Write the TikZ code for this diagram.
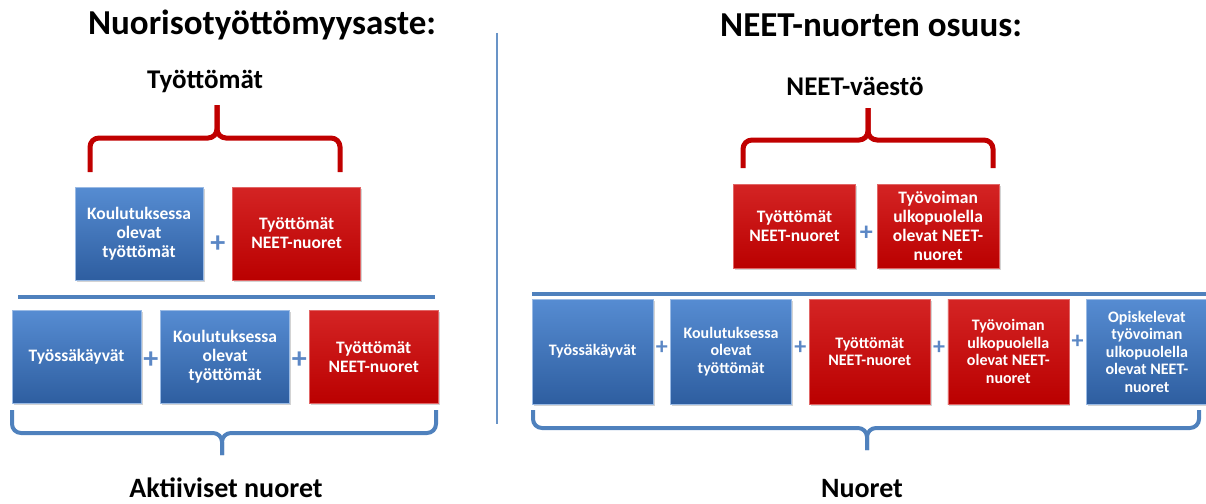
\documentclass[tikz,border=0pt]{standalone}
\usepackage{fontspec}
\setmainfont{Carlito}
\usetikzlibrary{positioning,calc,shadows}
\definecolor{sinitop}{RGB}{86,140,210}
\definecolor{sinibot}{RGB}{46,94,160}
\definecolor{punatop}{RGB}{212,36,36}
\definecolor{punabot}{RGB}{186,0,0}
\definecolor{sulkusini}{RGB}{79,129,189}
\definecolor{sulkupuna}{RGB}{192,0,0}
\definecolor{pluss}{RGB}{91,135,197}

\begin{document}
\begin{tikzpicture}[x=1pt,y=-1pt, every node/.style={font=\bfseries},
    laatikko/.style={inner sep=0pt, align=center, text=white,
      drop shadow={shadow xshift=1.5pt, shadow yshift=-1.5pt, opacity=.35}},
    sininen/.style={laatikko, top color=sinitop, bottom color=sinibot, draw=sinitop!60!white, line width=.6pt},
    punainen/.style={laatikko, top color=punatop, bottom color=punabot, draw=punatop!70!white, line width=.6pt},
    isot/.style={minimum width=128, minimum height=93, font=\bfseries\fontsize{17.5}{19}\selectfont},
    pienet/.style={minimum width=121, minimum height=105, font=\bfseries\fontsize{16}{17.5}\selectfont},
    plus/.style={text=pluss, inner sep=0pt},
    otsikko/.style={anchor=base, font=\bfseries\fontsize{35}{40}\selectfont},
    selite/.style={anchor=base, inner sep=1pt, font=\bfseries\fontsize{27}{30}\selectfont},
    punasulku/.style={draw=sulkupuna, line width=5pt, rounded corners=9pt},
    sinisulku/.style={draw=sulkusini, line width=4pt, rounded corners=9pt}]
  \useasboundingbox (0,0) rectangle (1206,503);

  % Nuorisotyöttömyysaste
  \node[otsikko] (otsA) at (262,35) {Nuorisotyöttömyysaste:};
  \node[selite] (tyottomat) at (205,88) {Työttömät};
  \draw[punasulku] (90,172) -- (90,138) -- (217,138) -- (217,105);
  \draw[punasulku] (340,172) -- (340,138) -- (217,138) -- (217,105);
  \node[sininen,isot] (koulA) at (139,233.5) {Koulutuksessa\\olevat\\työttömät};
  \node[punainen,isot,right=29pt of koulA] (tyotA) {Työttömät\\NEET-nuoret};
  \node[plus,font=\bfseries\fontsize{30}{30}\selectfont,yshift=-11pt] (plusA) at ($(koulA.east)!.5!(tyotA.west)$) {+};
  \draw[sulkusini,line width=4pt] (18,297) -- (435,297);
  \node[sininen,isot,minimum width=129] (tyossaB) at (76.5,357) {Työssäkäyvät};
  \node[sininen,isot,minimum width=129,right=19pt of tyossaB] (koulB) {Koulutuksessa\\olevat\\työttömät};
  \node[punainen,isot,minimum width=129,right=19pt of koulB] (tyotB) {Työttömät\\NEET-nuoret};
  \node[plus,font=\bfseries\fontsize{30}{30}\selectfont,yshift=-3pt] (plusB1) at ($(tyossaB.east)!.5!(koulB.west)$) {+};
  \node[plus,font=\bfseries\fontsize{30}{30}\selectfont,yshift=-3pt] (plusB2) at ($(koulB.east)!.5!(tyotB.west)$) {+};
  \draw[sinisulku] (12,410) -- (12,433) -- (222,433) -- (222,455);
  \draw[sinisulku] (436,410) -- (436,433) -- (222,433) -- (222,455);
  \node[selite,font=\bfseries\fontsize{28}{30}\selectfont] (aktiiviset) at (226,497) {Aktiiviset nuoret};

  % jakoviiva
  \draw[sulkusini!85!white,line width=2pt] (497,33) -- (497,424);

  % NEET-nuorten osuus
  \node[otsikko] (otsB) at (871,37) {NEET-nuorten osuus:};
  \node[selite] (neetvaesto) at (855,95) {NEET-väestö};
  \draw[punasulku] (743,168) -- (743,140) -- (868,140) -- (868,108);
  \draw[punasulku] (993,168) -- (993,140) -- (868,140) -- (868,108);
  \node[punainen,isot,minimum width=122,minimum height=84] (tyotC) at (794.5,226) {Työttömät\\NEET-nuoret};
  \node[punainen,isot,minimum width=122,minimum height=84,right=21pt of tyotC] (ulkoC) {Työvoiman\\ulkopuolella\\olevat NEET-\\nuoret};
  \node[plus,font=\bfseries\fontsize{26}{26}\selectfont,yshift=-7pt] (plusC) at ($(tyotC.east)!.5!(ulkoC.west)$) {+};
  \draw[sulkusini,line width=4pt] (532,294) -- (1206,294);
  \node[sininen,pienet] (tyossaD) at (592.5,351.5) {Työssäkäyvät};
  \node[sininen,pienet,right=17pt of tyossaD] (koulD) {Koulutuksessa\\olevat\\työttömät};
  \node[punainen,pienet,right=17pt of koulD] (tyotD) {Työttömät\\NEET-nuoret};
  \node[punainen,pienet,right=17pt of tyotD] (ulkoD) {Työvoiman\\ulkopuolella\\olevat NEET-\\nuoret};
  \node[sininen,pienet,right=17pt of ulkoD] (opisD) {Opiskelevat\\työvoiman\\ulkopuolella\\olevat NEET-\\nuoret};
  \node[plus,font=\bfseries\fontsize{24}{24}\selectfont,yshift=4pt] (plusD1) at ($(tyossaD.east)!.5!(koulD.west)$) {+};
  \node[plus,font=\bfseries\fontsize{24}{24}\selectfont,yshift=4pt] (plusD2) at ($(koulD.east)!.5!(tyotD.west)$) {+};
  \node[plus,font=\bfseries\fontsize{24}{24}\selectfont,yshift=4pt] (plusD3) at ($(tyotD.east)!.5!(ulkoD.west)$) {+};
  \node[plus,font=\bfseries\fontsize{24}{24}\selectfont,yshift=10pt] (plusD4) at ($(ulkoD.east)!.5!(opisD.west)$) {+};
  \draw[sinisulku] (533,410) -- (533,428) -- (867,428) -- (867,450);
  \draw[sinisulku] (1199,410) -- (1199,428) -- (867,428) -- (867,450);
  \node[selite,font=\bfseries\fontsize{28}{30}\selectfont] (nuoret) at (862,497) {Nuoret};
\end{tikzpicture}
\end{document}
